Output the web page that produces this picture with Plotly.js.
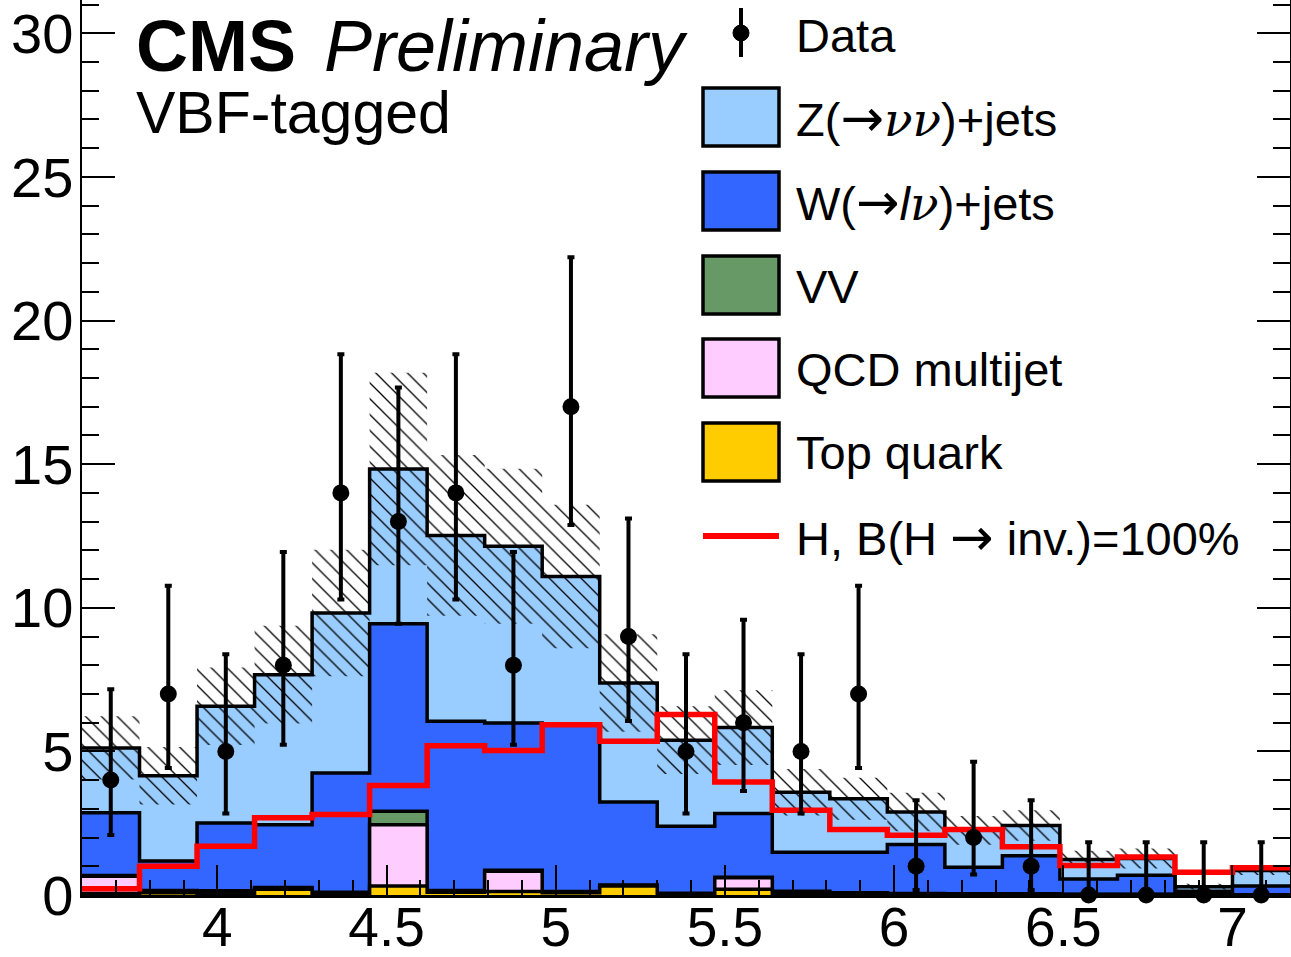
<!DOCTYPE html>
<html><head><meta charset="utf-8">
<script src="https://cdn.plot.ly/plotly-3.0.1.min.js"></script>
<style>html,body{margin:0;padding:0;background:#fff}#plot{width:1291px;height:957px}</style>
</head><body><div id="plot"></div>
<script>
// ---- data ----
const binEdges = [3.60,3.77,3.94,4.11,4.28,4.45,4.62,4.79,4.96,5.13,5.30,5.47,5.64,5.81,5.98,6.15,6.32,6.49,6.66,6.83,7.00,7.17];
const topQuark = [0.05,0.08,0.05,0.20,0.05,0.31,0.10,0.12,0.08,0.31,0.02,0.20,0.06,0.03,0.02,0.02,0.02,0.01,0.01,0.01,0.01];
const qcdMultijet = [0.60,0.05,0.05,0.03,0.03,2.14,0.03,0.71,0.02,0.02,0.02,0.40,0.03,0.03,0.01,0.01,0.01,0.01,0.01,0.00,0.00];
const dibosonVV = [0.03,0.03,0.05,0.03,0.02,0.47,0.03,0.03,0.02,0.02,0.02,0.02,0.04,0.02,0.02,0.01,0.01,0.01,0.01,0.00,0.00];
const wJets = [2.18,1.02,2.36,2.19,4.15,6.52,5.89,5.13,5.83,2.89,2.33,2.22,1.36,1.41,1.71,0.93,1.33,0.53,0.66,0.12,0.30];
const zJets = [2.26,2.97,4.06,5.22,5.57,5.39,6.47,6.15,5.14,4.14,3.00,2.99,2.09,1.86,1.13,1.28,1.05,0.68,0.58,0.16,0.54];
const bkgUnc = [1.10,1.00,1.35,1.70,2.20,3.35,2.80,2.70,2.50,1.70,1.18,1.30,0.81,0.73,0.67,0.50,0.53,0.30,0.35,0.10,0.15];
const signalH = [0.22,1.00,1.70,2.69,2.80,3.81,5.20,5.03,5.93,5.35,6.28,3.93,2.95,2.28,2.08,2.28,1.68,1.03,1.32,0.79,0.95];
const dataCounts = [4,7,5,8,14,13,14,8,17,9,5,6,5,7,1,2,1,0,0,0,0];
const dataErrHi = [3.16,3.77,3.38,3.94,4.83,4.67,4.83,3.94,5.20,4.11,3.38,3.58,3.38,3.77,2.30,2.64,2.30,1.84,1.84,1.84,1.84];
const dataErrLo = [1.91,2.58,2.16,2.77,3.71,3.56,3.71,2.77,4.12,2.94,2.16,2.38,2.16,2.58,0.83,1.29,0.83,0,0,0,0];
const xTickVals = [4,4.5,5,5.5,6,6.5,7];
const xTickText = ['4','4.5','5','5.5','6','6.5','7'];
const yTickVals = [0,5,10,15,20,25,30];
const yTickText = ['0','5','10','15','20','25','30'];

// ---- helpers ----
const nb = binEdges.length - 1;
const centers = binEdges.slice(0, nb).map((e, i) => (e + binEdges[i + 1]) / 2);
const addArr = (...arrs) => arrs[0].map((_, i) => arrs.reduce((s, a) => s + a[i], 0));
const stepY = v => v.concat([v[v.length - 1]]);

const cTop = topQuark.slice();
const cQCD = addArr(cTop, qcdMultijet);
const cVV = addArr(cQCD, dibosonVV);
const cW = addArr(cVV, wJets);
const cZ = addArr(cW, zJets);
const bandLo = cZ.map((v, i) => v - bkgUnc[i]);
const bandHi = cZ.map((v, i) => v + bkgUnc[i]);

const OUT = {color: 'black', width: 3.5, shape: 'hv'};
function stackTrace(vals, color, name) {
  return {type: 'scatter', mode: 'lines', x: binEdges, y: stepY(vals), line: OUT,
          fill: 'tozeroy', fillcolor: color, name: name, hoverinfo: 'skip'};
}

const traces = [
  stackTrace(cZ, '#99ccff', 'Z'),
  stackTrace(cW, '#3366ff', 'W'),
  stackTrace(cVV, '#669966', 'VV'),
  stackTrace(cQCD, '#ffccff', 'QCD'),
  stackTrace(cTop, '#ffcc00', 'Top'),
  {type: 'scatter', mode: 'lines', x: binEdges, y: stepY(bandLo), line: {width: 0, shape: 'hv'}, hoverinfo: 'skip'},
  {type: 'scatter', mode: 'lines', x: binEdges, y: stepY(bandHi), line: {width: 0, shape: 'hv'},
   fill: 'tonexty', fillcolor: 'rgba(0,0,0,0)',
   fillpattern: {shape: '\\', size: 11.2, solidity: 0.115, fgcolor: 'black', fgopacity: 1, bgcolor: 'rgba(0,0,0,0)', fillmode: 'overlay'},
   hoverinfo: 'skip'},
  {type: 'scatter', mode: 'lines', x: binEdges, y: stepY(signalH), line: {color: '#ff0000', width: 5.5, shape: 'hv'}, name: 'H'},
  {type: 'scatter', mode: 'markers', x: centers, y: dataCounts, cliponaxis: false,
   marker: {color: 'black', size: 17, symbol: 'circle'},
   error_y: {type: 'data', symmetric: false, array: dataErrHi, arrayminus: dataErrLo, color: 'black', thickness: 4, width: 3.5},
   name: 'Data'}
];

// ---- layout ----
const W = 1291, H = 957, ML = 82, MR = 1, MT = 0, MB = 62;
const pw = W - ML - MR, ph = H - MT - MB;
const px = x => (x - ML) / pw;
const py = y => 1 - (y - MT) / ph;

const FONT = 'Liberation Sans, Arial, Helvetica, sans-serif';
const ARROW = '<span style="font-family:DejaVu Sans;font-size:52px">→</span>';
const NU = '<span style="font-family:DejaVu Serif"><i>ν</i></span>';
const legendRows = [
  {y: 117, color: '#99ccff', text: 'Z(' + ARROW + NU + NU + ')+jets'},
  {y: 201, color: '#3366ff', text: 'W(' + ARROW + '<i>l</i>' + NU + ')+jets'},
  {y: 285, color: '#669966', text: 'VV'},
  {y: 368, color: '#ffccff', text: 'QCD multijet'},
  {y: 452, color: '#ffcc00', text: 'Top quark'}
];
const shapes = [];
const annotations = [];
legendRows.forEach(r => {
  shapes.push({type: 'rect', xref: 'paper', yref: 'paper', x0: px(703), x1: px(779), y0: py(r.y - 29), y1: py(r.y + 29),
               line: {color: 'black', width: 3.5}, fillcolor: r.color, layer: 'above'});
  annotations.push({xref: 'paper', yref: 'paper', x: px(795), y: py(r.y + 1), xanchor: 'left', yanchor: 'middle',
                    text: r.text, showarrow: false, font: {family: FONT, size: 47, color: 'black'}, borderpad: 0});
});
// Data legend marker
shapes.push({type: 'line', xref: 'paper', yref: 'paper', x0: px(741), x1: px(741), y0: py(8), y1: py(57), line: {color: 'black', width: 4}, layer: 'above'});
shapes.push({type: 'circle', xref: 'paper', yref: 'paper', x0: px(733), x1: px(749), y0: py(25), y1: py(41), line: {color: 'black', width: 1}, fillcolor: 'black', layer: 'above'});
annotations.push({xref: 'paper', yref: 'paper', x: px(795), y: py(35), xanchor: 'left', yanchor: 'middle', text: 'Data',
                  showarrow: false, font: {family: FONT, size: 47, color: 'black'}, borderpad: 0});
// Signal legend
shapes.push({type: 'line', xref: 'paper', yref: 'paper', x0: px(703), x1: px(779), y0: py(536), y1: py(536), line: {color: '#ff0000', width: 6}, layer: 'above'});
annotations.push({xref: 'paper', yref: 'paper', x: px(795), y: py(537), xanchor: 'left', yanchor: 'middle',
                  text: 'H, B(H ' + ARROW + ' inv.)=100%',
                  showarrow: false, font: {family: FONT, size: 47, color: 'black'}, borderpad: 0});
// CMS label
annotations.push({xref: 'paper', yref: 'paper', x: px(135), y: py(46), xanchor: 'left', yanchor: 'middle',
                  text: '<b>CMS</b>', showarrow: false, font: {family: FONT, size: 72, color: 'black'}, borderpad: 0});
annotations.push({xref: 'paper', yref: 'paper', x: px(323), y: py(46), xanchor: 'left', yanchor: 'middle',
                  text: '<i>Preliminary</i>', showarrow: false, font: {family: FONT, size: 72, color: 'black'}, borderpad: 0});
annotations.push({xref: 'paper', yref: 'paper', x: px(135), y: py(113), xanchor: 'left', yanchor: 'middle',
                  text: 'VBF-tagged', showarrow: false, font: {family: FONT, size: 59, color: 'black'}, borderpad: 0});

const layout = {
  width: W, height: H,
  margin: {l: ML, r: MR, t: MT, b: MB, pad: 0},
  paper_bgcolor: 'white', plot_bgcolor: 'white',
  showlegend: false,
  font: {family: FONT, color: 'black'},
  xaxis: {
    range: [3.6, 7.17], tickmode: 'array', tickvals: xTickVals, ticktext: xTickText,
    ticks: 'inside', ticklen: 30, tickwidth: 2, tickcolor: 'black', ticklabelstandoff: -18,
    showline: true, linewidth: 2.5, linecolor: 'black', mirror: false,
    showgrid: false, zeroline: false, tickfont: {size: 55, family: FONT},
    minor: {dtick: 0.1, tick0: 0, ticks: 'inside', ticklen: 15, tickwidth: 2, tickcolor: 'black', showgrid: false}
  },
  yaxis: {
    range: [0, 31.16], tickmode: 'array', tickvals: yTickVals, ticktext: yTickText,
    ticks: 'inside', ticklen: 33, tickwidth: 2, tickcolor: 'black', ticklabelstandoff: -5,
    showline: true, linewidth: 2.5, linecolor: 'black', mirror: 'allticks',
    showgrid: false, zeroline: false, tickfont: {size: 56, family: FONT},
    minor: {dtick: 1, tick0: 0, ticks: 'inside', ticklen: 17, tickwidth: 2, tickcolor: 'black', showgrid: false}
  },
  shapes: shapes,
  annotations: annotations
};

Plotly.newPlot('plot', traces, layout, {staticPlot: true, displayModeBar: false});
</script>
</body></html>
